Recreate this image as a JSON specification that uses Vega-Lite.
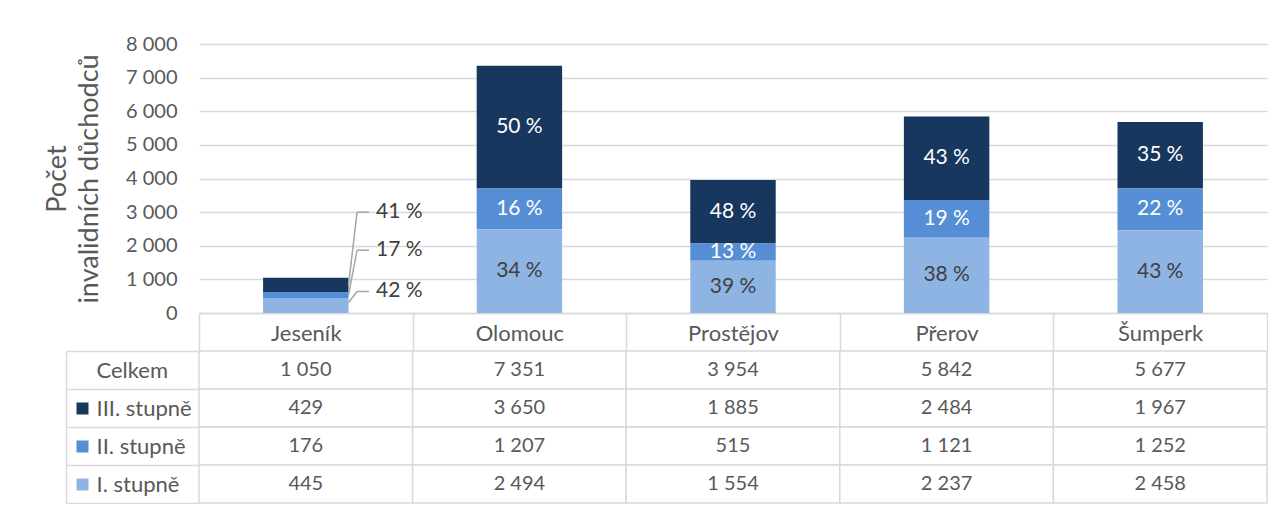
{
  "$schema": "https://vega.github.io/schema/vega-lite/v6.json",
  "padding": {"left": 43, "top": 34, "right": 0, "bottom": 0},
  "spacing": 38,
  "bounds": "flush",
  "config": {
    "font": "Lato",
    "view": {"stroke": null},
    "locale": {"number": {"decimal": ",", "thousands": "\u00a0", "grouping": [3], "currency": ["", " Kč"], "percent": "\u202f%"}}
  },
  "datasets": {
    "okresy": [
      {"district": "Jeseník", "series": "Celkem", "value": 1050, "pct": null},
      {"district": "Jeseník", "series": "III. stupně", "value": 429, "pct": 0.41},
      {"district": "Jeseník", "series": "II. stupně", "value": 176, "pct": 0.17},
      {"district": "Jeseník", "series": "I. stupně", "value": 445, "pct": 0.42},
      {"district": "Olomouc", "series": "Celkem", "value": 7351, "pct": null},
      {"district": "Olomouc", "series": "III. stupně", "value": 3650, "pct": 0.50},
      {"district": "Olomouc", "series": "II. stupně", "value": 1207, "pct": 0.16},
      {"district": "Olomouc", "series": "I. stupně", "value": 2494, "pct": 0.34},
      {"district": "Prostějov", "series": "Celkem", "value": 3954, "pct": null},
      {"district": "Prostějov", "series": "III. stupně", "value": 1885, "pct": 0.48},
      {"district": "Prostějov", "series": "II. stupně", "value": 515, "pct": 0.13},
      {"district": "Prostějov", "series": "I. stupně", "value": 1554, "pct": 0.39},
      {"district": "Přerov", "series": "Celkem", "value": 5842, "pct": null},
      {"district": "Přerov", "series": "III. stupně", "value": 2484, "pct": 0.43},
      {"district": "Přerov", "series": "II. stupně", "value": 1121, "pct": 0.19},
      {"district": "Přerov", "series": "I. stupně", "value": 2237, "pct": 0.38},
      {"district": "Šumperk", "series": "Celkem", "value": 5677, "pct": null},
      {"district": "Šumperk", "series": "III. stupně", "value": 1967, "pct": 0.35},
      {"district": "Šumperk", "series": "II. stupně", "value": 1252, "pct": 0.22},
      {"district": "Šumperk", "series": "I. stupně", "value": 2458, "pct": 0.43}
    ],
    "popisky": [
      {"district": "Jeseník", "series": "III. stupně", "pct": 0.41, "labelAt": 3000, "anchor": 835},
      {"district": "Jeseník", "series": "II. stupně", "pct": 0.17, "labelAt": 1870, "anchor": 533},
      {"district": "Jeseník", "series": "I. stupně", "pct": 0.42, "labelAt": 640, "anchor": 310}
    ]
  },
  "vconcat": [
    {
      "width": 1068,
      "height": 269,
      "layer": [
        {
          "data": {"name": "okresy"},
          "transform": [{"filter": "datum.series !== 'Celkem'"}],
          "mark": {"type": "bar", "width": {"band": 0.4}},
          "encoding": {
            "x": {
              "field": "district", "type": "nominal",
              "sort": ["Jeseník", "Olomouc", "Prostějov", "Přerov", "Šumperk"],
              "scale": {"paddingInner": 0, "paddingOuter": 0},
              "title": null,
              "axis": {
                "labelAngle": 0, "labelFontSize": 22, "labelColor": "#595959",
                "labelPadding": -18, "labelBaseline": "middle",
                "tickSize": 38, "tickBand": "extent", "tickColor": "#d9d9d9", "tickWidth": 1.5,
                "domainColor": "#d9d9d9", "domainWidth": 1.5
              }
            },
            "y": {
              "field": "value", "type": "quantitative", "stack": "zero",
              "scale": {"domain": [0, 8000]},
              "title": ["Počet", "invalidních důchodců"],
              "axis": {
                "values": [0, 1000, 2000, 3000, 4000, 5000, 6000, 7000, 8000],
                "labelOverlap": false,
                "format": ",d", "domain": false, "ticks": false,
                "labelFontSize": 20, "labelColor": "#595959", "labelPadding": 22,
                "gridColor": "#d9d9d9", "gridWidth": 1.5,
                "titleFontSize": 27, "titleFontWeight": "normal", "titleColor": "#595959",
                "titlePadding": 22, "titleLineHeight": 32
              }
            },
            "color": {
              "field": "series", "type": "nominal",
              "scale": {"domain": ["I. stupně", "II. stupně", "III. stupně"], "range": ["#8EB4E3", "#558ED5", "#17375E"]},
              "legend": null
            },
            "order": {"field": "series", "type": "ordinal", "sort": "ascending"}
          }
        },
        {
          "data": {"name": "okresy"},
          "transform": [{"filter": "datum.series !== 'Celkem' && datum.district !== 'Jeseník'"}],
          "mark": {"type": "text", "fontSize": 21, "baseline": "middle"},
          "encoding": {
            "x": {
              "field": "district", "type": "nominal",
              "sort": ["Jeseník", "Olomouc", "Prostějov", "Přerov", "Šumperk"],
              "scale": {"paddingInner": 0, "paddingOuter": 0},
              "title": null,
              "axis": {
                "labelAngle": 0, "labelFontSize": 22, "labelColor": "#595959",
                "labelPadding": -18, "labelBaseline": "middle",
                "tickSize": 38, "tickBand": "extent", "tickColor": "#d9d9d9", "tickWidth": 1.5,
                "domainColor": "#d9d9d9", "domainWidth": 1.5
              }
            },
            "y": {
              "field": "value", "type": "quantitative", "stack": "zero", "bandPosition": 0.5,
              "title": ["Počet", "invalidních důchodců"],
              "axis": {
                "values": [0, 1000, 2000, 3000, 4000, 5000, 6000, 7000, 8000],
                "labelOverlap": false,
                "format": ",d", "domain": false, "ticks": false,
                "labelFontSize": 20, "labelColor": "#595959", "labelPadding": 22,
                "gridColor": "#d9d9d9", "gridWidth": 1.5,
                "titleFontSize": 27, "titleFontWeight": "normal", "titleColor": "#595959",
                "titlePadding": 22, "titleLineHeight": 32
              }
            },
            "detail": {"field": "series", "type": "nominal"},
            "order": {"field": "series", "type": "ordinal", "sort": "ascending"},
            "text": {"field": "pct", "type": "quantitative", "format": ".0%"},
            "color": {"condition": {"test": "datum.series === 'I. stupně'", "value": "#404040"}, "value": "#ffffff"}
          }
        },
        {
          "data": {"name": "popisky"},
          "mark": {"type": "rule", "color": "#a6a6a6", "strokeWidth": 1.5},
          "encoding": {
            "x": {
              "field": "district", "type": "nominal", "bandPosition": 0.7,
              "sort": ["Jeseník", "Olomouc", "Prostějov", "Přerov", "Šumperk"],
              "title": null,
              "axis": {
                "labelAngle": 0, "labelFontSize": 22, "labelColor": "#595959",
                "labelPadding": -18, "labelBaseline": "middle",
                "tickSize": 38, "tickBand": "extent", "tickColor": "#d9d9d9", "tickWidth": 1.5,
                "domainColor": "#d9d9d9", "domainWidth": 1.5
              }
            },
            "x2": {"field": "district", "bandPosition": 0.74},
            "y": {
              "field": "anchor", "type": "quantitative",
              "title": ["Počet", "invalidních důchodců"],
              "axis": {
                "values": [0, 1000, 2000, 3000, 4000, 5000, 6000, 7000, 8000],
                "labelOverlap": false,
                "format": ",d", "domain": false, "ticks": false,
                "labelFontSize": 20, "labelColor": "#595959", "labelPadding": 22,
                "gridColor": "#d9d9d9", "gridWidth": 1.5,
                "titleFontSize": 27, "titleFontWeight": "normal", "titleColor": "#595959",
                "titlePadding": 22, "titleLineHeight": 32
              }
            },
            "y2": {"field": "labelAt"}
          }
        },
        {
          "data": {"name": "popisky"},
          "mark": {"type": "rule", "color": "#a6a6a6", "strokeWidth": 1.5},
          "encoding": {
            "x": {
              "field": "district", "type": "nominal", "bandPosition": 0.74,
              "sort": ["Jeseník", "Olomouc", "Prostějov", "Přerov", "Šumperk"],
              "title": null,
              "axis": {
                "labelAngle": 0, "labelFontSize": 22, "labelColor": "#595959",
                "labelPadding": -18, "labelBaseline": "middle",
                "tickSize": 38, "tickBand": "extent", "tickColor": "#d9d9d9", "tickWidth": 1.5,
                "domainColor": "#d9d9d9", "domainWidth": 1.5
              }
            },
            "x2": {"field": "district", "bandPosition": 0.796},
            "y": {
              "field": "labelAt", "type": "quantitative",
              "title": ["Počet", "invalidních důchodců"],
              "axis": {
                "values": [0, 1000, 2000, 3000, 4000, 5000, 6000, 7000, 8000],
                "labelOverlap": false,
                "format": ",d", "domain": false, "ticks": false,
                "labelFontSize": 20, "labelColor": "#595959", "labelPadding": 22,
                "gridColor": "#d9d9d9", "gridWidth": 1.5,
                "titleFontSize": 27, "titleFontWeight": "normal", "titleColor": "#595959",
                "titlePadding": 22, "titleLineHeight": 32
              }
            }
          }
        },
        {
          "data": {"name": "popisky"},
          "mark": {"type": "text", "fontSize": 21, "align": "left", "baseline": "middle", "color": "#404040"},
          "encoding": {
            "x": {
              "field": "district", "type": "nominal", "bandPosition": 0.829,
              "sort": ["Jeseník", "Olomouc", "Prostějov", "Přerov", "Šumperk"],
              "title": null,
              "axis": {
                "labelAngle": 0, "labelFontSize": 22, "labelColor": "#595959",
                "labelPadding": -18, "labelBaseline": "middle",
                "tickSize": 38, "tickBand": "extent", "tickColor": "#d9d9d9", "tickWidth": 1.5,
                "domainColor": "#d9d9d9", "domainWidth": 1.5
              }
            },
            "y": {
              "field": "labelAt", "type": "quantitative",
              "title": ["Počet", "invalidních důchodců"],
              "axis": {
                "values": [0, 1000, 2000, 3000, 4000, 5000, 6000, 7000, 8000],
                "labelOverlap": false,
                "format": ",d", "domain": false, "ticks": false,
                "labelFontSize": 20, "labelColor": "#595959", "labelPadding": 22,
                "gridColor": "#d9d9d9", "gridWidth": 1.5,
                "titleFontSize": 27, "titleFontWeight": "normal", "titleColor": "#595959",
                "titlePadding": 22, "titleLineHeight": 32
              }
            },
            "text": {"field": "pct", "type": "quantitative", "format": ".0%"}
          }
        }
      ]
    },
    {
      "width": 1068,
      "height": 152,
      "data": {"name": "okresy"},
      "encoding": {
        "x": {
          "field": "district", "type": "nominal",
          "sort": ["Jeseník", "Olomouc", "Prostějov", "Přerov", "Šumperk"],
          "scale": {"paddingInner": 0, "paddingOuter": 0},
          "axis": null
        }
      },
      "layer": [
        {
          "mark": {"type": "rect", "fill": "#ffffff", "stroke": "#d9d9d9", "strokeWidth": 1.5},
          "encoding": {
            "y": {
              "field": "series", "type": "nominal",
              "sort": ["Celkem", "III. stupně", "II. stupně", "I. stupně"],
              "scale": {"paddingInner": 0, "paddingOuter": 0},
              "title": null,
              "axis": {
                "orient": "left", "offset": 133,
                "domain": true, "domainColor": "#d9d9d9", "domainWidth": 1.5,
                "ticks": true, "tickSize": -133, "tickBand": "extent", "tickColor": "#d9d9d9", "tickWidth": 1.5,
                "labelAlign": "left", "labelBaseline": "middle", "labelPadding": 103,
                "labelFontSize": 22, "labelColor": "#595959", "grid": false
              }
            }
          }
        },
        {
          "mark": {"type": "text", "fontSize": 20, "color": "#595959", "baseline": "middle"},
          "encoding": {
            "y": {
              "field": "series", "type": "nominal",
              "sort": ["Celkem", "III. stupně", "II. stupně", "I. stupně"],
              "title": null,
              "axis": {
                "orient": "left", "offset": 111,
                "domain": false, "labels": false, "grid": false,
                "ticks": true, "tickBand": "center", "tickSize": 12, "tickWidth": 12, "tickCap": "butt",
                "tickColor": {
                  "condition": [
                    {"test": "datum.value === 'III. stupně'", "value": "#17375E"},
                    {"test": "datum.value === 'II. stupně'", "value": "#558ED5"},
                    {"test": "datum.value === 'I. stupně'", "value": "#8EB4E3"}
                  ],
                  "value": "rgba(0,0,0,0)"
                }
              }
            },
            "text": {"field": "value", "type": "quantitative", "format": ",d"}
          }
        }
      ],
      "resolve": {"axis": {"y": "independent"}}
    }
  ]
}
